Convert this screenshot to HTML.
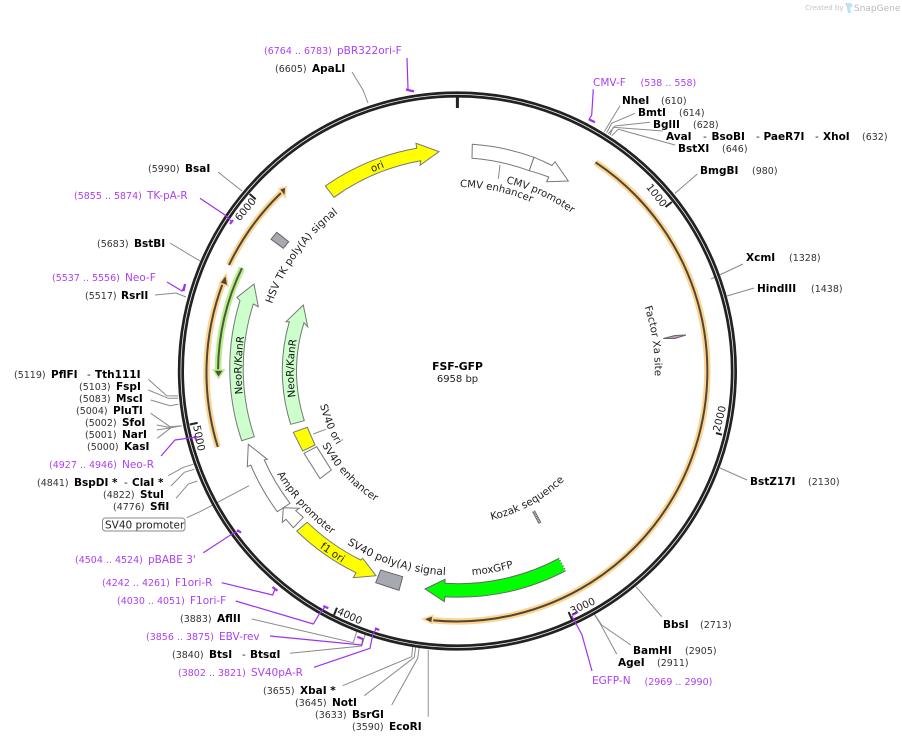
<!DOCTYPE html>
<html><head><meta charset="utf-8"><style>
html,body{margin:0;padding:0;background:#fff}
svg{display:block}
text{font-family:"DejaVu Sans","Liberation Sans",sans-serif;fill:#111}
.n{font-size:10.5px;font-weight:bold;fill:#000}
.d{font-size:9.5px;fill:#333}
.h{font-size:10.5px;fill:#222}
.p{font-size:10.5px;fill:#ac3ff2}
.r{font-size:9.5px;fill:#ac3ff2}
.f{font-size:10.3px;fill:#222}
.c{font-size:10.1px;fill:#222}
.l{fill:none;stroke:#8a8a8a;stroke-width:1}
.v{fill:none;stroke:#a030f0;stroke-width:1.2}
.b{fill:none;stroke:#a030f0;stroke-width:2.2}
.s{stroke:#777;stroke-width:1}
.t{stroke:#222;stroke-width:2}
</style></head><body>
<svg width="902" height="743" viewBox="0 0 902 743" xmlns="http://www.w3.org/2000/svg">
<defs>
<path id="pCP" d="M506 183A194 194 0 0 1 600 238"/>
<path id="pCE" d="M460 187A184 184 0 0 1 560 218"/>
<path id="pHS" d="M272 304A197 197 0 0 1 345 208"/>
<path id="pN1" d="M242.7 394A216 216 0 0 1 253.5 300"/>
<path id="pN2" d="M295.6 397A164 164 0 0 1 305.5 310"/>
<path id="pSO" d="M320 405A141.6 141.6 0 0 0 360 474"/>
<path id="pSE" d="M322 445A154.4 154.4 0 0 0 400 514"/>
<path id="pAP" d="M277 474A206 206 0 0 0 360 552"/>
<path id="pSP" d="M347 544A205 205 0 0 0 470 575"/>
<path id="pMG" d="M472 575A204.5 204.5 0 0 0 530 562"/>
<path id="pKZ" d="M491.5 520A153 153 0 0 0 580 279"/>
<path id="pFX" d="M644.5 307A197.5 197.5 0 0 1 640 445"/>
</defs>

<!-- watermark -->
<text x="805" y="10" style="font-size:7px;fill:#c4c4c4">Created by</text>
<path d="M845 3h6l2 3-3 2 1 5h-3l-1-5z" fill="#bfe2f2"/>
<text x="854" y="11" style="font-size:9px;fill:#b9b9b9">SnapGene</text>

<!-- leader lines -->
<polyline class="l" points="352,72 363,90 368,103"/>
<polyline class="l" points="620,105.7 604.3,131.7"/>
<polyline class="l" points="635,113.3 611.7,123.3 606.7,132.7"/>
<polyline class="l" points="650,122.3 615,126 608.3,134"/>
<polyline class="l" points="662.7,131 613.3,127.3 610,135"/>
<polyline class="l" points="675,145 618.3,129.3 611.7,135.7"/>
<polyline class="l" points="697.3,174 675,193.3"/>
<polyline class="l" points="743,264 711,279"/>
<polyline class="l" points="754,288 727,296"/>
<polyline class="l" points="747,480 720,468"/>
<polyline class="l" points="661.7,616.7 636,586.7"/>
<polyline class="l" points="630.7,645 601.7,625 595,615"/>
<polyline class="l" points="616.7,654 600,623.3 594.3,614.3"/>
<polyline class="l" points="148.3,379.3 166.7,395.7 178.3,396"/>
<polyline class="l" points="148.3,390 168.3,398.3 178.3,398.3"/>
<polyline class="l" points="150.7,400 170,405.7 178.3,404.3"/>
<polyline class="l" points="150.7,413.3 170,426.7 181.7,425.7"/>
<polyline class="l" points="156.7,425 171,427.7 181.7,425.7"/>
<polyline class="l" points="156.7,430 171,427.7"/>
<polyline class="l" points="157.3,438.3 171,427.7"/>
<polyline class="l" points="168.3,475.7 183.3,467.3 193.3,464.3"/>
<polyline class="l" points="171,486 184.3,472.3 194.3,469.3"/>
<polyline class="l" points="176,498.3 188.3,484 197.3,481"/>
<polyline class="l" points="186.7,517.7 200,511.7 249,485.7"/>
<polyline class="l" points="218,172 242,191"/>
<polyline class="l" points="170,243 200,261"/>
<polyline class="l" points="155,295 176,293 186,297"/>
<polyline class="l" points="251.7,619 353.3,642.7 356.7,631.7"/>
<polyline class="l" points="290,653.3 361.7,646 366,631.7"/>
<polyline class="l" points="342.7,685.7 411.7,656.7 412.7,646.7"/>
<polyline class="l" points="364.3,695.7 414.3,657.3 415.7,646.7"/>
<polyline class="l" points="391.7,705 417.7,658.3 419.3,646.7"/>
<polyline class="l" style="stroke:#aaa;stroke-width:1.3" points="428.3,716.7 428.3,650"/>
<polyline class="l" points="500,165 498.3,179"/>
<polyline class="l" points="313.3,434 325.7,429.3"/>

<!-- plasmid ring -->
<circle cx="457.4" cy="371" r="276.5" fill="none" stroke="#222" stroke-width="6.2"/>
<circle cx="457.4" cy="371" r="276.5" fill="none" stroke="#f4f4f4" stroke-width="0.8"/>

<!-- purple primer lines -->
<polyline class="v" points="407,58 408,89"/>
<line class="b" x1="406" y1="89.5" x2="414" y2="91.5"/>
<polyline class="v" points="593.3,89.3 591.7,115 589.3,119"/>
<line class="b" x1="588.7" y1="119.3" x2="595" y2="122.3"/>
<polyline class="v" points="592,671 582,635 572,616"/>
<line class="b" x1="572" y1="615" x2="578" y2="612"/>
<polyline class="v" points="161,456 175,440 195,437.3"/>
<line class="b" x1="194.3" y1="436" x2="196.7" y2="440.7"/>
<polyline class="v" points="203.3,552.7 232,534 239,531"/>
<line class="b" x1="237.3" y1="530" x2="241" y2="532.7"/>
<polyline class="v" points="200,198.3 225,215 231.7,221.7"/>
<line class="b" x1="230" y1="224" x2="233" y2="220"/>
<polyline class="v" points="167,282 182,291 185,285"/>
<line class="b" x1="185" y1="284" x2="183.5" y2="291"/>
<polyline class="v" points="221.7,582.7 272.7,595 275,589"/>
<line class="b" x1="272.5" y1="587" x2="277.5" y2="590.7"/>
<polyline class="v" points="235.7,601 313.3,624 319.3,614 325,607"/>
<line class="b" x1="323.3" y1="606" x2="328.3" y2="608.3"/>
<polyline class="v" points="270,636 361.7,645 363,638"/>
<line class="b" x1="357.3" y1="636.7" x2="362.7" y2="639"/>
<polyline class="v" points="314,667.3 370,648.3 372.7,635 376,629"/>
<line class="b" x1="375" y1="628.3" x2="379.3" y2="630"/>

<!-- ticks -->
<line x1="457.4" y1="97" x2="457.4" y2="108" stroke="#222" stroke-width="3"/>
<line class="t" x1="671.8" y1="202" x2="665.5" y2="207"/>
<line class="t" x1="722" y1="434.7" x2="716" y2="433"/>
<line class="t" x1="571.9" y1="619.5" x2="568.6" y2="612"/>
<line class="t" x1="334" y1="615" x2="337" y2="607.8"/>
<line class="t" x1="189.8" y1="424.5" x2="197.6" y2="422.9"/>
<line class="t" x1="249.6" y1="194" x2="255.7" y2="199.3"/>
<text class="f" text-anchor="middle" transform="translate(657,195) rotate(51.7) translate(0,4)">1000</text>
<text class="f" text-anchor="middle" transform="translate(719,418.5) rotate(-76) translate(0,4)">2000</text>
<text class="f" text-anchor="middle" transform="translate(582.5,605.5) rotate(-25) translate(0,4)">3000</text>
<text class="f" text-anchor="middle" transform="translate(350,615.5) rotate(25) translate(0,4)">4000</text>
<text class="f" text-anchor="middle" transform="translate(199.5,438) rotate(79) translate(0,4)">5000</text>
<text class="f" text-anchor="middle" transform="translate(245,209) rotate(-50) translate(0,4)">6000</text>

<!-- primer-like orange / green features -->
<g fill="none">
<path d="M595.5 162.3A250.5 250.5 0 0 1 432 620.2" stroke="#fcd594" stroke-width="6.5"/>
<path d="M595.5 162.3A250.5 250.5 0 0 1 432 620.2" stroke="#51462f" stroke-width="2"/>
<path d="M217.8 447A251.5 251.5 0 0 1 222.9 283" stroke="#fcd594" stroke-width="6.5"/>
<path d="M217.8 447A251.5 251.5 0 0 1 222.9 283" stroke="#51462f" stroke-width="2"/>
<path d="M229 265A251 251 0 0 1 281 193" stroke="#fcd594" stroke-width="6.5"/>
<path d="M229 265A251 251 0 0 1 281 193" stroke="#51462f" stroke-width="2"/>
<path d="M242 268A239.5 239.5 0 0 0 218 370" stroke="#b9ee8e" stroke-width="6.5"/>
<path d="M242 268A239.5 239.5 0 0 0 218 370" stroke="#4b5a35" stroke-width="2"/>
</g>
<polygon points="423,619 433,615.5 432,623.5" fill="#51462f" stroke="#fcd594" stroke-width="1.6"/>
<polygon points="226,274.3 219.5,283 228,286" fill="#51462f" stroke="#fcd594" stroke-width="1.6"/>
<polygon points="286,187 279,189 285,197" fill="#51462f" stroke="#fcd594" stroke-width="1.6"/>
<polygon points="218.5,378 213.5,370 224,370" fill="#4b5a35" stroke="#b9ee8e" stroke-width="1.6"/>

<!-- features -->
<path class="s" fill="#ffff00" d="M325.3 186A227 227 0 0 1 416.7 148.3L416 143.3L439 151.7L420 165.3L420.7 160.7A213 213 0 0 0 334 197.3Z"/>
<path class="s" fill="#fff" d="M472.3 144.3A227 227 0 0 1 534 157.3L529.3 170.7A213 213 0 0 0 472 158.3Z"/>
<path class="s" fill="#fff" d="M534 157.3A227 227 0 0 1 552 165.5L555 161.7L568.3 181L546.7 181.7L548.8 177A213 213 0 0 0 529.3 170.7Z"/>
<path class="s" fill="#ccffcc" d="M241.7 440.7A227 227 0 0 1 240 300.7L237 297.3L254 284L258.3 306.7L253.3 304A213.5 213.5 0 0 0 254.3 436.7Z"/>
<path class="s" fill="#ccffcc" d="M290.7 424.3A175 175 0 0 1 289.3 321.7L286 321.7L303.3 305L307.7 326.7L304 322.7A161 161 0 0 0 304.3 420.7Z"/>
<polygon class="s" fill="#ffff00" points="293.3,432.3 307.3,427.3 315,445 302.7,451"/>
<polygon class="s" fill="#fff" points="304,453.3 316.7,446.7 331.3,470 320,478.7"/>
<path class="s" fill="#fff" d="M277.3 511.7A228 228 0 0 1 250.7 465L247.3 466.7L248.3 444.3L267.3 459.3L264.3 460A213 213 0 0 0 290 503.3Z"/>
<polygon class="s" fill="#fff" points="283.3,507.7 299.3,508.3 295.7,510.7 303.3,517.3 293.3,527.7 286,519.3 282.3,522.3"/>
<path class="s" fill="#ffff00" d="M307.3 522.3A213 213 0 0 0 360.7 560L362.7 558.3L376 575.7L353.3 577.7L356 572.7A227 227 0 0 1 296.7 531Z"/>
<polygon fill="#a6a9b0" stroke="#666" points="380.7,570 402.7,576.7 399,590.3 375.7,582.7"/>
<polygon fill="#a6a9b0" stroke="#666" points="276.7,232.3 288.7,241.7 283.3,248.3 271,239.3"/>
<path fill="#00ff00" stroke="#666" d="M559 558.3A213 213 0 0 1 445 583.3L445 579.3L425 589L444.3 601.7L445 596.7A227 227 0 0 0 565.7 570.7Z"/>
<line x1="559.5" y1="558.5" x2="565.5" y2="570.5" stroke="#fff" stroke-width="1.4" stroke-dasharray="1.5 1.5"/>
<line x1="533.5" y1="511" x2="540" y2="523.3" stroke="#666" stroke-width="3.2"/>
<line x1="533.5" y1="511" x2="540" y2="523.3" stroke="#ddd" stroke-width="2" stroke-dasharray="0.7 1"/>
<polygon points="663.3,338.5 675,335.5 686,335 675,338.5" fill="#d090c0" stroke="#666" stroke-width="1"/>

<!-- feature labels -->
<text class="c"><textPath href="#pCP">CMV promoter</textPath></text>
<text class="c"><textPath href="#pCE">CMV enhancer</textPath></text>
<text class="f" style="font-size:10.5px"><textPath href="#pHS">HSV TK poly(A) signal</textPath></text>
<text class="f" style="fill:#111"><textPath href="#pN1">NeoR/KanR</textPath></text>
<text class="f" style="fill:#111"><textPath href="#pN2">NeoR/KanR</textPath></text>
<text class="f"><textPath href="#pSO">SV40 ori</textPath></text>
<text class="f"><textPath href="#pSE">SV40 enhancer</textPath></text>
<text class="f"><textPath href="#pAP">AmpR promoter</textPath></text>
<text class="f" style="font-size:10.7px"><textPath href="#pSP">SV40 poly(A) signal</textPath></text>
<text class="f"><textPath href="#pMG">moxGFP</textPath></text>
<text class="f" style="font-size:10.4px"><textPath href="#pKZ">Kozak sequence</textPath></text>
<text class="f"><textPath href="#pFX">Factor Xa site</textPath></text>
<text class="f" text-anchor="middle" transform="translate(377,166) rotate(-22) translate(0,4)">ori</text>
<text class="f" text-anchor="middle" transform="translate(333,552) rotate(34) translate(0,4)">f1 ori</text>

<!-- center -->
<text x="457.5" y="370" text-anchor="middle" style="font-size:10.8px;font-weight:bold;fill:#000">FSF-GFP</text>
<text x="457.5" y="382" text-anchor="middle" style="font-size:10px;fill:#222">6958 bp</text>

<!-- right labels -->
<text class="n" x="622" y="104">NheI</text><text class="d" x="661" y="104">(610)</text>
<text class="n" x="638" y="116">BmtI</text><text class="d" x="679" y="116">(614)</text>
<text class="n" x="653" y="128">BglII</text><text class="d" x="693" y="128">(628)</text>
<text class="n" x="666" y="140">AvaI</text><text class="h" x="703" y="140">-</text><text class="n" x="711.5" y="140">BsoBI</text><text class="h" x="756" y="140">-</text><text class="n" x="763.5" y="140">PaeR7I</text><text class="h" x="815" y="140">-</text><text class="n" x="823" y="140">XhoI</text><text class="d" x="862" y="140">(632)</text>
<text class="n" x="678" y="152">BstXI</text><text class="d" x="722" y="152">(646)</text>
<text class="n" x="700" y="174">BmgBI</text><text class="d" x="752" y="174">(980)</text>
<text class="n" x="746" y="261">XcmI</text><text class="d" x="789" y="261">(1328)</text>
<text class="n" x="757" y="292">HindIII</text><text class="d" x="811" y="292">(1438)</text>
<text class="n" x="750" y="485">BstZ17I</text><text class="d" x="808" y="485">(2130)</text>
<text class="n" x="663" y="628">BbsI</text><text class="d" x="700" y="628">(2713)</text>
<text class="n" x="633" y="654">BamHI</text><text class="d" x="685" y="654">(2905)</text>
<text class="n" x="618" y="666">AgeI</text><text class="d" x="657" y="666">(2911)</text>
<text class="p" x="592" y="684">EGFP-N</text><text class="r" x="644.5" y="685">(2969 .. 2990)</text>
<text class="p" x="593" y="86">CMV-F</text><text class="r" x="640.5" y="86">(538 .. 558)</text>

<!-- top / left labels -->
<text class="r" x="264" y="54">(6764 .. 6783)</text><text class="p" x="337" y="54">pBR322ori-F</text>
<text class="d" x="275" y="72">(6605)</text><text class="n" x="312" y="72">ApaLI</text>
<text class="d" x="148" y="172">(5990)</text><text class="n" x="185" y="172">BsaI</text>
<text class="r" x="74" y="199">(5855 .. 5874)</text><text class="p" x="147" y="199">TK-pA-R</text>
<text class="d" x="97" y="247">(5683)</text><text class="n" x="134" y="247">BstBI</text>
<text class="r" x="52" y="281">(5537 .. 5556)</text><text class="p" x="125" y="281">Neo-F</text>
<text class="d" x="85" y="299">(5517)</text><text class="n" x="121" y="299">RsrII</text>
<text class="d" x="14" y="378">(5119)</text><text class="n" x="51" y="378">PflFI</text><text class="h" x="87" y="378">-</text><text class="n" x="95" y="378">Tth111I</text>
<text class="d" x="79" y="390">(5103)</text><text class="n" x="116" y="390">FspI</text>
<text class="d" x="79" y="402">(5083)</text><text class="n" x="116" y="402">MscI</text>
<text class="d" x="76" y="414">(5004)</text><text class="n" x="113" y="414">PluTI</text>
<text class="d" x="85" y="426">(5002)</text><text class="n" x="122" y="426">SfoI</text>
<text class="d" x="85" y="438">(5001)</text><text class="n" x="122" y="438">NarI</text>
<text class="d" x="87" y="450">(5000)</text><text class="n" x="124" y="450">KasI</text>
<text class="r" x="49" y="468">(4927 .. 4946)</text><text class="p" x="122" y="468">Neo-R</text>
<text class="d" x="37" y="486">(4841)</text><text class="n" x="74" y="486">BspDI *</text><text class="h" x="124" y="486">-</text><text class="n" x="132" y="486">ClaI *</text>
<text class="d" x="103" y="498">(4822)</text><text class="n" x="140" y="498">StuI</text>
<text class="d" x="113" y="510">(4776)</text><text class="n" x="150" y="510">SfiI</text>
<rect x="102.5" y="518" width="82.5" height="13" rx="3" fill="#fff" stroke="#888"/>
<text class="h" x="105" y="528.5">SV40 promoter</text>
<text class="r" x="75" y="563">(4504 .. 4524)</text><text class="p" x="148" y="563">pBABE 3'</text>
<text class="r" x="102" y="586">(4242 .. 4261)</text><text class="p" x="175" y="586">F1ori-R</text>
<text class="r" x="117" y="604">(4030 .. 4051)</text><text class="p" x="190" y="604">F1ori-F</text>
<text class="d" x="180" y="622">(3883)</text><text class="n" x="217" y="622">AflII</text>
<text class="r" x="146" y="640">(3856 .. 3875)</text><text class="p" x="219" y="640">EBV-rev</text>
<text class="d" x="172" y="658">(3840)</text><text class="n" x="209" y="658">BtsI</text><text class="h" x="242" y="658">-</text><text class="n" x="250" y="658">BtsαI</text>
<text class="r" x="178" y="676">(3802 .. 3821)</text><text class="p" x="251" y="676">SV40pA-R</text>
<text class="d" x="263" y="694">(3655)</text><text class="n" x="300" y="694">XbaI *</text>
<text class="d" x="295" y="706">(3645)</text><text class="n" x="332" y="706">NotI</text>
<text class="d" x="315" y="718">(3633)</text><text class="n" x="352" y="718">BsrGI</text>
<text class="d" x="352" y="730">(3590)</text><text class="n" x="389" y="730">EcoRI</text>
</svg>
</body></html>
